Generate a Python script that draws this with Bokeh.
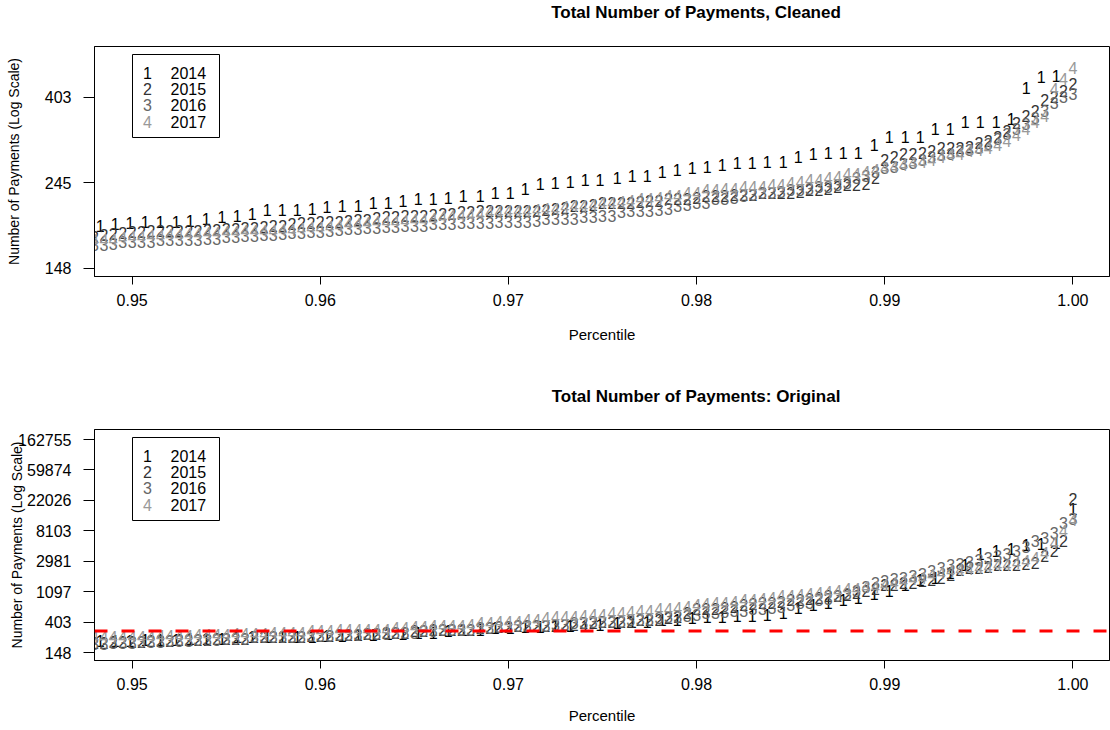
from bokeh.plotting import figure
from bokeh.models import (Range1d, FixedTicker, NumeralTickFormatter, CustomJSTickFormatter,
                          ColumnDataSource, Span, Label, BoxAnnotation)
from bokeh.layouts import column
from bokeh.core.properties import value
from bokeh.embed import file_html
from bokeh.resources import INLINE

# ---------------- data ----------------
YEARS = ["2014", "2015", "2016", "2017"]
SYMBOLS = ["1", "2", "3", "4"]
COLORS = ["#000000", "#333333", "#666666", "#999999"]
TITLES = ["Total Number of Payments, Cleaned", "Total Number of Payments: Original"]

X_TICKS = [0.95, 0.96, 0.97, 0.98, 0.99, 1.00]
Y_TICKS_CLEAN = [148.41, 244.69, 403.43]
Y_TICKS_ORIG = [148.41, 403.43, 1096.63, 2980.96, 8103.08, 22026.47, 59874.14, 162754.79]
THRESHOLD = 300

# percentile grid shared by 2015-2017 series
PCT = [0.9480, 0.9485, 0.9490, 0.9495, 0.9500, 0.9505, 0.9510, 0.9515, 0.9520, 0.9525,
       0.9530, 0.9535, 0.9540, 0.9545, 0.9550, 0.9555, 0.9560, 0.9565, 0.9570, 0.9575,
       0.9580, 0.9585, 0.9590, 0.9595, 0.9600, 0.9605, 0.9610, 0.9615, 0.9620, 0.9625,
       0.9630, 0.9635, 0.9640, 0.9645, 0.9650, 0.9655, 0.9660, 0.9665, 0.9670, 0.9675,
       0.9680, 0.9685, 0.9690, 0.9695, 0.9700, 0.9705, 0.9710, 0.9715, 0.9720, 0.9725,
       0.9730, 0.9735, 0.9740, 0.9745, 0.9750, 0.9755, 0.9760, 0.9765, 0.9770, 0.9775,
       0.9780, 0.9785, 0.9790, 0.9795, 0.9800, 0.9805, 0.9810, 0.9815, 0.9820, 0.9825,
       0.9830, 0.9835, 0.9840, 0.9845, 0.9850, 0.9855, 0.9860, 0.9865, 0.9870, 0.9875,
       0.9880, 0.9885, 0.9890, 0.9895, 0.9900, 0.9905, 0.9910, 0.9915, 0.9920, 0.9925,
       0.9930, 0.9935, 0.9940, 0.9945, 0.9950, 0.9955, 0.9960, 0.9965, 0.9970, 0.9975,
       0.9980, 0.9985, 0.9990, 0.9995, 1.0000]

# percentiles of the (sparser) 2014 series
PCT_2014 = [0.94830, 0.94910, 0.94989, 0.95069, 0.95149, 0.95234, 0.95308, 0.95393, 0.95478, 0.95558,
            0.95638, 0.95718, 0.95797, 0.95877, 0.95957, 0.96036, 0.96116, 0.96201, 0.96281, 0.96361,
            0.96440, 0.96520, 0.96600, 0.96680, 0.96759, 0.96850, 0.96929, 0.97009, 0.97089, 0.97169,
            0.97248, 0.97328, 0.97408, 0.97487, 0.97578, 0.97658, 0.97737, 0.97817, 0.97897, 0.97976,
            0.98056, 0.98136, 0.98216, 0.98295, 0.98375, 0.98460, 0.98540, 0.98620, 0.98699, 0.98779,
            0.98859, 0.98944, 0.99023, 0.99109, 0.99188, 0.99268, 0.99348, 0.99427, 0.99507, 0.99592,
            0.99672, 0.99752, 0.99831, 0.99911]
PCT_2014_ORIG = PCT_2014 + [1.0000]

# cleaned counts
CLEAN_2014 = [190, 192, 193, 194, 195, 195, 196, 198, 200, 201,
              204, 209, 209, 209, 210, 212, 213, 214, 217, 218,
              220, 222, 223, 224, 226, 227, 230, 231, 236, 243,
              245, 246, 248, 249, 252, 254, 255, 260, 263, 267,
              269, 271, 274, 275, 277, 277, 284, 290, 292, 292,
              292, 306, 319, 319, 319, 336, 336, 350, 350, 350,
              356, 427, 455, 458]
CLEAN_2015 = [178, 180, 181, 182, 183, 183, 184, 184, 184, 185,
              185, 185, 186, 186, 187, 187, 188, 188, 189, 190,
              190, 192, 193, 193, 194, 195, 195, 196, 197, 197,
              199, 200, 200, 201, 202, 202, 203, 204, 204, 206,
              206, 207, 207, 207, 208, 208, 208, 208, 209, 210,
              211, 213, 214, 215, 217, 217, 218, 218, 219, 220,
              220, 222, 223, 223, 224, 226, 226, 227, 228, 228,
              228, 230, 230, 231, 231, 232, 234, 235, 236, 238,
              241, 242, 243, 252, 279, 285, 290, 290, 292, 295,
              299, 299, 300, 302, 308, 313, 320, 332, 348, 362,
              373, 398, 405, 419, 437]
CLEAN_2016 = [170, 170, 171, 173, 173, 173, 173, 175, 175, 175,
              175, 175, 176, 176, 178, 178, 179, 179, 180, 180,
              181, 182, 182, 183, 183, 184, 186, 187, 187, 188,
              188, 189, 189, 190, 190, 190, 192, 192, 192, 193,
              193, 193, 193, 194, 194, 194, 195, 196, 198, 198,
              198, 198, 200, 200, 201, 202, 206, 207, 208, 208,
              209, 210, 213, 215, 217, 218, 222, 223, 224, 226,
              228, 230, 231, 232, 234, 235, 236, 238, 239, 242,
              244, 251, 255, 260, 266, 269, 273, 275, 279, 284,
              287, 290, 294, 297, 300, 307, 317, 326, 336, 346,
              358, 373, 390, 403, 412]
CLEAN_2017 = [175, 175, 175, 177, 178, 178, 179, 179, 180, 180,
              181, 181, 182, 182, 183, 183, 184, 184, 185, 185,
              186, 186, 187, 188, 188, 189, 190, 192, 192, 193,
              194, 194, 195, 196, 197, 197, 198, 200, 201, 202,
              203, 204, 206, 206, 207, 208, 208, 209, 210, 210,
              212, 213, 214, 215, 217, 218, 219, 220, 222, 223,
              224, 226, 227, 230, 231, 234, 235, 236, 236, 238,
              238, 239, 241, 242, 244, 246, 248, 249, 251, 253,
              257, 258, 260, 263, 266, 269, 271, 274, 277, 280,
              284, 287, 290, 294, 297, 300, 306, 313, 323, 336,
              350, 362, 424, 450, 480]

# original counts
ORIG_2014 = [220, 220, 220, 227, 227, 227, 235, 235, 235, 243,
             243, 243, 251, 251, 251, 259, 259, 268, 268, 277,
             277, 286, 286, 296, 306, 316, 327, 327, 338, 338,
             349, 349, 360, 372, 385, 398, 411, 425, 439, 454,
             469, 484, 490, 500, 517, 552, 651, 696, 767, 820,
             902, 1000, 1138, 1343, 1582, 1745, 2057, 2590, 3842, 4105,
             4526, 4998, 5336, 5512, 16860]
ORIG_2015 = [206, 206, 213, 213, 213, 213, 220, 220, 220, 227,
             227, 227, 227, 235, 235, 235, 235, 243, 243, 243,
             251, 251, 251, 259, 259, 259, 268, 268, 268, 277,
             277, 286, 286, 286, 296, 296, 306, 306, 306, 316,
             316, 327, 327, 338, 338, 349, 349, 360, 360, 360,
             372, 372, 385, 385, 398, 398, 411, 411, 425, 425,
             439, 454, 469, 535, 610, 610, 630, 651, 673, 696,
             719, 743, 767, 790, 820, 847, 875, 902, 935, 966,
             998, 1066, 1138, 1216, 1343, 1387, 1434, 1481, 1531, 1582,
             1745, 1926, 2270, 2420, 2420, 2505, 2590, 2590, 2675, 2765,
             2857, 3595, 4238, 5887, 23420]
ORIG_2016 = [199, 199, 206, 206, 206, 213, 213, 213, 220, 220,
             220, 227, 227, 227, 235, 235, 235, 243, 243, 243,
             251, 251, 251, 259, 259, 259, 268, 268, 268, 277,
             277, 277, 286, 286, 286, 296, 296, 306, 306, 316,
             316, 327, 327, 338, 338, 349, 349, 360, 360, 372,
             372, 385, 385, 398, 398, 411, 411, 425, 425, 439,
             454, 469, 484, 500, 517, 535, 552, 571, 590, 590,
             610, 630, 651, 673, 696, 743, 767, 820, 875, 935,
             1031, 1138, 1298, 1434, 1531, 1635, 1745, 1864, 1990, 2197,
             2420, 2590, 2765, 2953, 3153, 3366, 3595, 3842, 4238, 4834,
             5700, 6500, 7657, 10636, 12131]
ORIG_2017 = [243, 243, 243, 251, 251, 251, 251, 259, 259, 259,
             259, 268, 268, 268, 268, 277, 277, 277, 277, 286,
             286, 286, 286, 296, 296, 296, 306, 306, 306, 316,
             316, 316, 327, 327, 338, 338, 349, 349, 360, 360,
             372, 385, 385, 398, 411, 411, 425, 439, 454, 469,
             469, 484, 500, 517, 517, 535, 552, 571, 590, 590,
             610, 630, 651, 673, 696, 719, 743, 767, 793, 820,
             847, 875, 902, 935, 966, 998, 1031, 1066, 1101, 1138,
             1177, 1216, 1257, 1298, 1343, 1434, 1531, 1635, 1745, 1926,
             2057, 2197, 2270, 2346, 2420, 2505, 2590, 2675, 2857, 3051,
             3366, 3969, 5512, 8177, 11740]

# ---------------- styling ----------------
FONT = "Liberation Sans"
W = 1110
LEFT = 94          # left border of the plot frames
FRAME_W = 1015     # width of the plot frames
X_RANGE = (0.948, 1.001945)


def make_title(text, height):
    """A thin strip that only carries the bold panel title, centred over the frame."""
    t = figure(width=W, height=height, output_backend="svg", toolbar_location=None,
               x_range=Range1d(0, 1), y_range=Range1d(0, 1),
               x_axis_location=None, y_axis_location=None,
               min_border_left=0, min_border_right=0, min_border_top=0, min_border_bottom=0)
    t.outline_line_color = None
    t.xgrid.visible = False
    t.ygrid.visible = False
    t.add_layout(Label(x=LEFT + FRAME_W / 2, y=height / 2, x_units="screen", y_units="screen",
                       text=text, text_align="center", text_baseline="middle",
                       text_font=FONT, text_font_size="17px", text_font_style="bold",
                       text_color="black"))
    return t


def make_panel(height, top_b, frame_h, y_range, y_ticks, series, ylab_standoff, xlab_standoff):
    p = figure(width=W, height=height, output_backend="svg", toolbar_location=None,
               x_range=Range1d(*X_RANGE), y_range=Range1d(*y_range), y_axis_type="log",
               min_border_left=LEFT, min_border_right=W - LEFT - FRAME_W, min_border_top=top_b,
               min_border_bottom=height - top_b - frame_h)

    p.xgrid.visible = False
    p.ygrid.visible = False
    p.outline_line_color = "black"
    p.outline_line_alpha = 1
    p.background_fill_color = "white"
    p.border_fill_color = "white"

    p.xaxis.ticker = FixedTicker(ticks=X_TICKS, minor_ticks=[])
    p.xaxis.formatter = NumeralTickFormatter(format="0.00")
    p.xaxis.major_tick_out = 8
    p.xaxis.major_label_standoff = 9
    p.xaxis.axis_label = "Percentile"
    p.xaxis.axis_label_standoff = xlab_standoff

    p.yaxis.ticker = FixedTicker(ticks=y_ticks, minor_ticks=[])
    p.yaxis.formatter = CustomJSTickFormatter(code="return Math.round(tick).toString();")
    p.yaxis.major_tick_out = 11
    p.yaxis.major_label_standoff = 12
    p.yaxis.axis_label = "Number of Payments (Log Scale)"
    p.yaxis.axis_label_standoff = ylab_standoff

    for ax in (p.xaxis[0], p.yaxis[0]):
        ax.major_tick_in = 0
        ax.minor_tick_line_color = None
        ax.axis_line_color = "black"
        ax.major_tick_line_color = "black"
        ax.major_label_text_font = FONT
        ax.major_label_text_font_size = "16px"
        ax.major_label_text_color = "black"
        ax.axis_label_text_font = FONT
        ax.axis_label_text_font_style = "normal"
        ax.axis_label_text_color = "black"
    p.xaxis.axis_label_text_font_size = "15px"
    p.yaxis.axis_label_text_font_size = "14px"

    for (xs, ys), sym, col in zip(series, SYMBOLS, COLORS):
        src = ColumnDataSource(dict(x=xs, y=ys, t=[sym] * len(xs)))
        p.text(x="x", y="y", text="t", source=src, text_color=col,
               text_font=value(FONT), text_font_size=value("16px"),
               text_align="center", text_baseline="middle")

    # legend (box + symbol + year), placed in screen units relative to the frame
    box = BoxAnnotation(left=38, right=125, top=frame_h - 8, bottom=frame_h - 91,
                        left_units="screen", right_units="screen",
                        top_units="screen", bottom_units="screen",
                        fill_color="white", fill_alpha=1.0,
                        line_color="black", line_width=1, line_alpha=1.0)
    p.add_layout(box)
    for i, (sym, yr, col) in enumerate(zip(SYMBOLS, YEARS, COLORS)):
        yy = frame_h - 26 - 16.4 * i
        p.add_layout(Label(x=53, y=yy, x_units="screen", y_units="screen", text=sym,
                           text_color=col, text_align="center", text_baseline="middle",
                           text_font=FONT, text_font_size="16px"))
        p.add_layout(Label(x=76, y=yy, x_units="screen", y_units="screen", text=yr,
                           text_color="black", text_align="left", text_baseline="middle",
                           text_font=FONT, text_font_size="16px"))
    return p


t1 = make_title(TITLES[0], 24)
p1 = make_panel(354, 22, 230, (141.4, 543.0), Y_TICKS_CLEAN,
                [(PCT_2014, CLEAN_2014), (PCT, CLEAN_2015), (PCT, CLEAN_2016), (PCT, CLEAN_2017)],
                ylab_standoff=20, xlab_standoff=17)

t2 = make_title(TITLES[1], 36)
p2 = make_panel(316, 15, 231, (114.1, 226200.0), Y_TICKS_ORIG,
                [(PCT_2014_ORIG, ORIG_2014), (PCT, ORIG_2015), (PCT, ORIG_2016), (PCT, ORIG_2017)],
                ylab_standoff=-10, xlab_standoff=14)
p2.add_layout(Span(location=THRESHOLD, dimension="width", line_color="red",
                   line_width=3, line_dash="13 14"))

layout = column(t1, p1, t2, p2)
open("out.html", "w").write(file_html(layout, INLINE))
